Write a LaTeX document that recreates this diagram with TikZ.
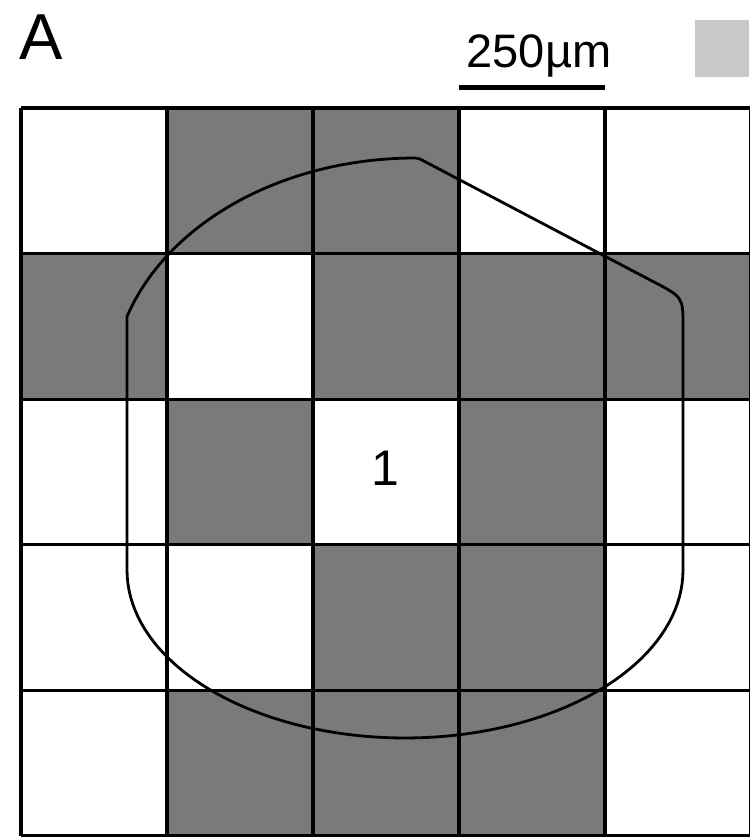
\documentclass[tikz,border=0pt]{standalone}
\usepackage{fontspec}
\setmainfont{Liberation Sans}
\definecolor{cellg}{HTML}{7A7A7A}
\definecolor{swatch}{HTML}{C8C8C8}
\begin{document}
\begin{tikzpicture}[x=1pt,y=-1pt,
  gridline/.style={line width=3.2pt,black},
  outline/.style={line width=2.8pt,black,line join=round},
  graycell/.style={fill=cellg},
  label/.style={inner sep=0pt,anchor=base}]
\useasboundingbox (0,0) rectangle (749,837);
\fill[white] (0,0) rectangle (749,837);
% gray cells
\foreach \c/\r in {1/0,2/0,0/1,2/1,3/1,4/1,1/2,3/2,2/3,3/3,1/4,2/4,3/4}
  \fill[graycell] ({21+146*\c},{108+145.6*\r}) rectangle +(146,145.6);
% grid
\foreach \i in {0,...,5}
  \draw[gridline] ({21+146*\i},108) -- ({21+146*\i},836);
\foreach \j in {0,...,5}
  \draw[gridline] (21,{108+145.6*\j}) -- (752,{108+145.6*\j});
% outline
\draw[outline] (127,570) -- (127,317)
  -- plot[domain=162:90,samples=50,variable=\t] ({415+303*cos(\t)},{388-230*sin(\t)})
  -- (420,159) -- (652,281) .. controls (683,297) .. (683,326) -- (683,570)
  -- plot[domain=0:180,samples=80,variable=\t] ({405+278*cos(\t)},{570+168*sin(\t)})
  -- cycle;
% swatch
\fill[swatch] (695,20) rectangle (749,77);
% scale bar
\coordinate (sbl) at (459,88);
\coordinate (sbr) at (605,88);
\draw[line width=5pt] (sbl) -- (sbr);
\node[label,font=\fontsize{47}{47}\selectfont] (scale) at (539,68) {250µm};
\node[label,anchor=base west,font=\fontsize{65}{65}\selectfont] (panel) at (19,60) {A};
\node[label,font=\fontsize{50}{50}\selectfont] (one) at (385,485) {1};
\end{tikzpicture}
\end{document}
